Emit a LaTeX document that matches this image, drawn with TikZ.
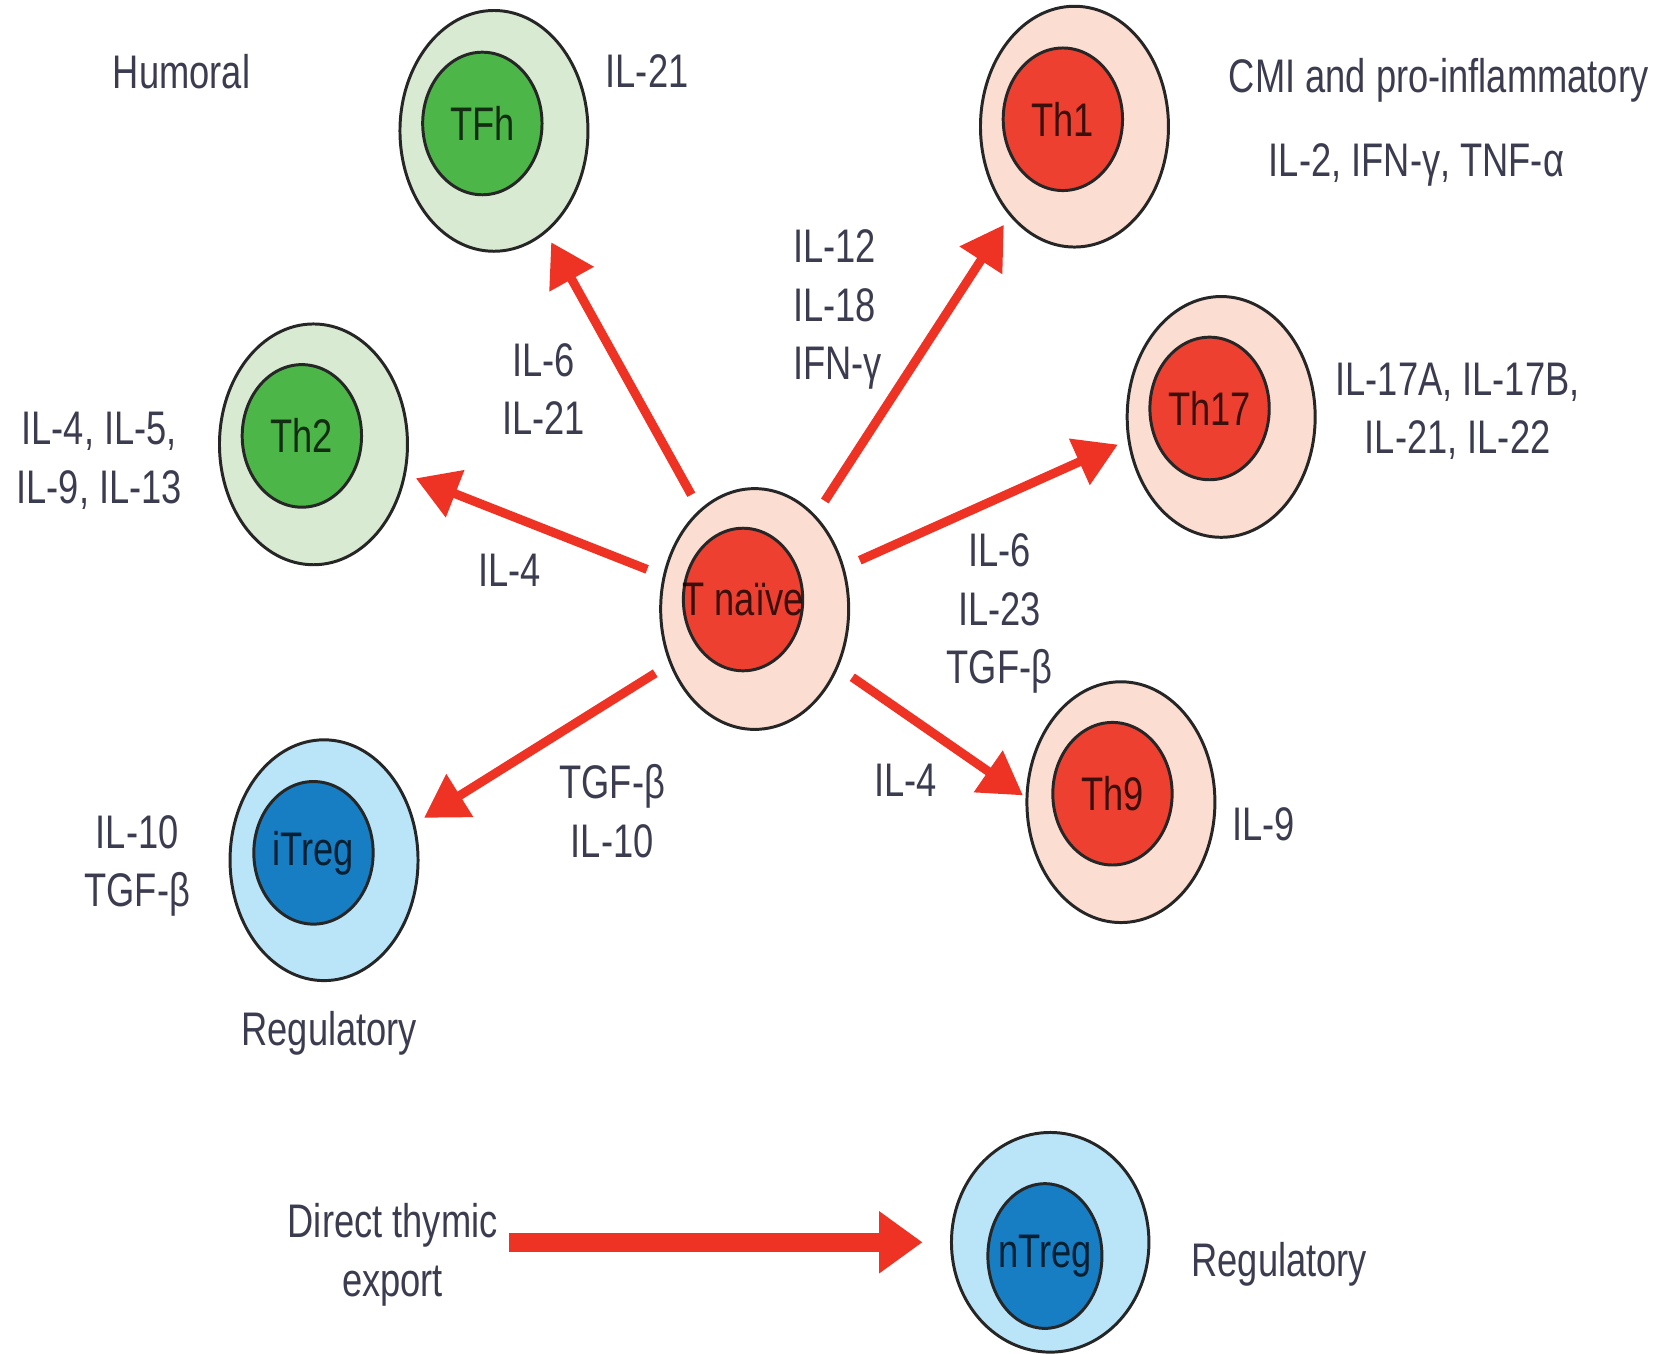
\documentclass[tikz,border=0pt]{standalone}
\usepackage{fontspec}
\setmainfont{Liberation Sans}[FakeStretch=0.77]
\usetikzlibrary{shapes.geometric,arrows.meta}

\definecolor{arrowred}{RGB}{238,50,36}
\definecolor{labelgray}{RGB}{60,60,80}
\definecolor{greenbody}{RGB}{217,234,211}
\definecolor{greencore}{RGB}{77,182,72}
\definecolor{redbody}{RGB}{251,221,210}
\definecolor{redcore}{RGB}{238,64,48}
\definecolor{bluebody}{RGB}{186,228,248}
\definecolor{bluecore}{RGB}{24,126,196}

\newcommand{\cellname}[1]{\makebox[0pt]{#1}}

\begin{document}
\begin{tikzpicture}[x=0.01cm,y=-0.01cm,
	every node/.style={font=\fontsize{12.7}{15.8}\selectfont,text=labelgray},
	cellbody/.style={ellipse,draw=black!85,line width=0.8pt,inner sep=0pt,minimum width=1.78cm,minimum height=2.28cm},
	cellcore/.style={ellipse,draw=black!85,line width=0.8pt,inner sep=0pt,minimum width=1.13cm,minimum height=1.35cm,text=black,text opacity=0.75},
	cyto/.style={anchor=base,align=center,inner sep=0pt},
	cellarrow/.style={draw=arrowred,line width=0.085cm,-{Triangle[length=0.4cm,width=0.46cm]},shorten <=0.16cm,shorten >=0.1cm},
	thymicarrow/.style={draw=arrowred,line width=0.18cm,-{Triangle[length=0.41cm,width=0.56cm]}}]

	\useasboundingbox (0,0) rectangle (1568,1282);

	\node[cellbody,fill=greenbody] (tfh) at (468,124) {};
	\node[cellcore,fill=greencore] (tfh-in) at (457,117) {\cellname{TFh}};

	\node[cellbody,fill=redbody] (th1) at (1018,120) {};
	\node[cellcore,fill=redcore] (th1-in) at (1007,113) {\cellname{Th1}};

	\node[cellbody,fill=greenbody] (th2) at (297,421) {};
	\node[cellcore,fill=greencore] (th2-in) at (286,413) {\cellname{Th2}};

	\node[cellbody,fill=redbody] (th17) at (1157,395) {};
	\node[cellcore,fill=redcore] (th17-in) at (1146,387) {\cellname{Th17}};

	\node[cellbody,fill=redbody] (tnaive) at (715,577) {};
	\node[cellcore,fill=redcore] (tnaive-in) at (704,568) {\cellname{T naïve}};

	\node[cellbody,fill=redbody] (th9) at (1062,760) {};
	\node[cellcore,fill=redcore] (th9-in) at (1054,752) {\cellname{Th9}};

	\node[cellbody,fill=bluebody] (itreg) at (307,815) {};
	\node[cellcore,fill=bluecore] (itreg-in) at (297,808) {\cellname{iTreg}};

	\node[cellbody,fill=bluebody,minimum width=1.87cm,minimum height=2.08cm] (ntreg) at (995,1177) {};
	\node[cellcore,fill=bluecore,minimum width=1.08cm,minimum height=1.37cm] (ntreg-in) at (990,1190) {\cellname{nTreg}};

	\draw[cellarrow] (tnaive.119) -- (tfh.-63);
	\draw[cellarrow] (tnaive.57) -- (th1.-126);
	\draw[cellarrow] (tnaive.160) -- (th2.-18);
	\draw[cellarrow] (tnaive.25) -- (th17.194);
	\draw[cellarrow] (tnaive.213) -- (itreg.22);
	\draw[cellarrow,shorten >=0.03cm] (tnaive.-35) -- (th9.177);

	\node[cyto] (humoral) at (172,84) {Humoral};
	\node[cyto] (tfh-out) at (613,83) {IL-21};
	\node[cyto] (cmi) at (1363,88) {CMI and pro-inflammatory};
	\node[cyto] (th1-out) at (1342,167) {IL-2, IFN-γ, TNF-α};
	\node[cyto,anchor=base west,align=left] (th1-in-cyto) at (751,360) {IL-12\\IL-18\\IFN-γ};
	\node[cyto] (tfh-in-cyto) at (515,412) {IL-6\\IL-21};
	\node[cyto] (th2-out) at (94,477) {IL-4, IL-5,\\IL-9, IL-13};
	\node[cyto] (th17-out) at (1381,430) {IL-17A, IL-17B,\\IL-21, IL-22};
	\node[cyto] (th2-in-cyto) at (483,556) {IL-4};
	\node[cyto] (th17-in-cyto) at (947,648) {IL-6\\IL-23\\TGF-β};
	\node[cyto] (itreg-in-cyto) at (580,812) {TGF-β\\IL-10};
	\node[cyto] (th9-in-cyto) at (858,755) {IL-4};
	\node[cyto] (itreg-out) at (130,859) {IL-10\\TGF-β};
	\node[cyto] (th9-out) at (1197,796) {IL-9};
	\node[cyto] (itreg-role) at (312,991) {Regulatory};
	\node[cyto] (dte) at (372,1228) {Direct thymic\\export};
	\node[cyto] (ntreg-role) at (1212,1209) {Regulatory};

	\draw[thymicarrow,shorten <=0.1cm,shorten >=0.26cm] (dte.east |- ntreg.west) -- (ntreg.west);
\end{tikzpicture}
\end{document}
